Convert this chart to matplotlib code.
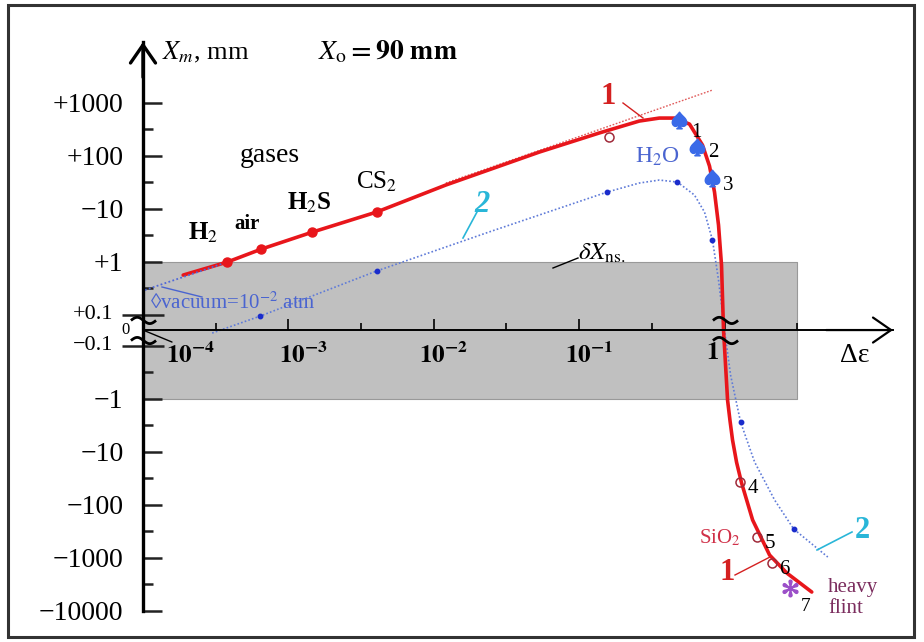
import numpy as np
import matplotlib.pyplot as plt
from matplotlib.path import Path
from matplotlib.patches import Rectangle
from matplotlib.lines import Line2D

plt.rcParams['font.family'] = ['Liberation Serif', 'DejaVu Serif']
plt.rcParams['mathtext.fontset'] = 'stix'

W, H = 924, 642

# curve 1 (red, solid) : delta-epsilon vs X_m [mm]
curve1_de = [1.89e-4, 3.8e-4, 6.52e-4, 1.465e-3, 4.04e-3, 0.0121, 0.053, 0.137, 0.259,
             0.356, 0.452, 0.574, 0.705, 0.788, 0.853, 0.909, 0.953, 0.984, 1.049,
             1.09, 1.135, 1.21, 1.31, 1.56, 2.04, 2.68, 3.98]
curve1_xm = [0.556, 0.979, 1.72, 3.60, 8.59, 27.8, 116, 266, 448,
             510, 510, 393, 158, 63.4, 20.5, 4.88, 0.859, 0.0, -1.07,
             -2.6, -6.07, -16, -39.3, -196, -897, -1960, -4477]

# asymptote of curve 1 (thin dotted)
tan_de = [0.0121, 0.826]
tan_xm = [30.3, 1722]

# gases on curve 1
gas_names = ['H$_2$', 'air', 'H$_2$S', 'CS$_2$']
gas_de = [3.8e-4, 6.52e-4, 1.465e-3, 4.04e-3]
gas_xm = [0.979, 1.72, 3.60, 8.59]

# curve 2 (blue, dotted)
curve2_de = [2.99e-4, 6.41e-4, 4.04e-3, 0.0239, 0.156, 0.259, 0.356, 0.474, 0.621, 0.728,
             0.826, 0.909, 1.0, 1.10, 1.289, 1.61, 2.21, 2.99, 5.13]
curve2_xm = [-0.0194, 0.0903, 0.662, 3.60, 20.5, 30.3, 34.5, 31.6, 18.0, 8.59,
             2.54, 0.448, 0.0, -0.360, -2.78, -15.8, -82.2, -290, -979]
dots2_de = [6.41e-4, 4.04e-3, 0.156, 0.474, 0.826, 1.289, 2.99]
dots2_xm = [0.0903, 0.662, 20.5, 31.6, 2.54, -2.78, -290]

# vacuum extension
vac_de = [1.03e-4, 3.8e-4]
vac_xm = [0.29, 0.979]

# liquids (spades), solids (circles), heavy flint
liq_de = [0.489, 0.651, 0.826]
liq_xm = [468, 144.5, 37.6]
liq_lab = ['1', '2', '3']
sol_de = [0.161, 1.269, 1.662, 2.110]
sol_xm = [223, -37.6, -410, -1270]
sol_lab = ['', '4', '5', '6']
flint_de = [2.807]
flint_xm = [-3760]

# non-sensitivity band
band_de = [1e-4, 3.14]
band_xm = [-1, 1]

ytick_vals = [1000, 100, 10, 1, -1, -10, -100, -1000, -10000]
ytick_labs = ['+1000', '+100', '\u221210', '+1', '\u22121', '\u221210', '\u2212100', '\u22121000', '\u221210000']
yminor = [10**2.5, 10**1.5, 10**0.5, 10**-0.5, -10**-0.5, -10**0.5, -10**1.5, -10**2.5, -10**3.5]
xtick_vals = [1e-3, 1e-2, 1e-1, 1]
xtick_labs = [r'$\mathbf{10^{-3}}$', r'$\mathbf{10^{-2}}$', r'$\mathbf{10^{-1}}$', r'$\mathbf{1}$']
xtick_dx = [15, 10, 10, -12]
xminor = [10**-3.5, 10**-2.5, 10**-1.5, 10**-0.5, 10**0.5]


def f(x, y):
    return x / W, 1 - y / H


def lead(x0, y0, x1, y1, color, lw=1.0):
    fig.add_artist(Line2D([x0 / W, x1 / W], [1 - y0 / H, 1 - y1 / H],
                          transform=fig.transFigure, color=color, lw=lw))


fig = plt.figure(figsize=(W / 100, H / 100), dpi=100)
ax = fig.add_axes([143 / W, 1 - 620 / H, (893 - 143) / W, (620 - 42) / H])
ax.set_xscale('log')
ax.set_yscale('symlog', linthresh=0.1, linscale=0.2632)
ytop = 13900
ax.set_xlim(1e-4, 14.41)
ax.set_ylim(-15100, ytop)

for s in ['top', 'right']:
    ax.spines[s].set_visible(False)
ax.spines['bottom'].set_position(('data', 0))
ax.spines['bottom'].set_linewidth(1.4)
ax.spines['left'].set_linewidth(2.4)
ax.spines['left'].set_bounds(-10000, ytop)

ax.set_yticks(ytick_vals, ytick_labs)
ax.set_yticks(yminor, minor=True)
ax.tick_params(axis='y', which='major', direction='in', length=13.5, width=1.8,
               color='#222222', pad=14, labelsize=20)
ax.tick_params(axis='y', which='minor', direction='in', length=7, width=1.8, color='#222222')
ax.set_xticks(xtick_vals, [''] * 4)
ax.set_xticks(xminor, minor=True)
ax.xaxis.set_minor_formatter(plt.NullFormatter())
ax.tick_params(axis='x', which='major', direction='in', length=8, width=1.2)
ax.tick_params(axis='x', which='minor', direction='in', length=5, width=1.2)

# ±0.1 ticks crossing the axis
ax.plot([1e-4, 1e-4], [0.1, -0.1], ls='none', marker='_', ms=30, mew=1.8,
        color='#222222', clip_on=False)
ax.annotate('+0.1', (1e-4, 0.1), xytext=(-30, 0), textcoords='offset pixels',
            ha='right', va='center', fontsize=16)
ax.annotate('\u22120.1', (1e-4, -0.1), xytext=(-30, 0), textcoords='offset pixels',
            ha='right', va='center', fontsize=16)
ax.annotate('0', (1e-4, 0), xytext=(-17, 0), textcoords='offset pixels',
            ha='center', va='center', fontsize=12)

for v, lab, dx in zip(xtick_vals, xtick_labs, xtick_dx):
    ax.annotate(lab, (v, 0), xytext=(dx, -12), textcoords='offset pixels',
                ha='center', va='top', fontsize=18)
ax.annotate(r'$\mathbf{10^{-4}}$', (1e-4, 0), xytext=(47, -12), textcoords='offset pixels',
            ha='center', va='top', fontsize=18)
ax.annotate('', (1e-4, 0), xytext=(29, -12), textcoords='offset pixels',
            arrowprops=dict(arrowstyle='-', lw=1.0, color='k', shrinkA=0, shrinkB=0))

# axis arrows
ax.annotate('', xy=(1e-4, ytop), xytext=(1e-4, 3000),
            arrowprops=dict(arrowstyle='->,head_length=1.3,head_width=0.9', lw=2.4,
                            color='k', shrinkA=0, shrinkB=0), annotation_clip=False)
ax.annotate('', xy=(14.41, 0), xytext=(5, 0),
            arrowprops=dict(arrowstyle='->,head_length=1.3,head_width=0.9', lw=1.6,
                            color='k', shrinkA=0, shrinkB=0), annotation_clip=False)

# band
ax.fill_between(band_de, band_xm[0], band_xm[1], color='#c0c0c0', ec='#999999',
                lw=0.8, zorder=0)

# curves
ax.plot(tan_de, tan_xm, color='#e05a5a', lw=1.0, ls=(0, (1.2, 1.2)))
ax.plot(curve2_de, curve2_xm, color='#5f7bd8', lw=1.2, ls=(0, (1, 1.3)))
ax.plot(dots2_de, dots2_xm, 'o', ms=3.2, color='#1a2ccc')
ax.plot(curve1_de, curve1_xm, color='#e8161b', lw=2.6, solid_capstyle='round')
ax.plot(vac_de, vac_xm, color='#5068d8', lw=1.3, ls=(0, (1, 1.3)))
ax.plot(gas_de, gas_xm, 'o', ms=6.5, color='#e8161b')
gas_off = [(-24, 17), (-14, 15), (-3, 17), (0, 18)]
gas_bold = ['bold', 'bold', 'bold', 'normal']
for n, x, y, o, b in zip(gas_names, gas_de, gas_xm, gas_off, gas_bold):
    ax.annotate(n, (x, y), xytext=o, textcoords='offset pixels', ha='center',
                va='bottom', fontsize=18 if n != 'air' else 15, fontweight=b)

ax.plot(liq_de, liq_xm, ls='none', marker=r'$\spadesuit$', ms=12, color='#3a6ae8')
for x, y, lab, o in zip(liq_de, liq_xm, liq_lab, [(17, -12), (16, -5), (16, -7)]):
    ax.annotate(lab, (x, y), xytext=o, textcoords='offset pixels', ha='center',
                va='center', fontsize=15)
ax.plot(sol_de, sol_xm, 'o', mfc='none', mec='#a02a3a', ms=6.5, mew=1.1)
for x, y, lab in zip(sol_de, sol_xm, sol_lab):
    ax.annotate(lab, (x, y), xytext=(13, -6), textcoords='offset pixels', ha='center',
                va='center', fontsize=15)
ax.plot(flint_de, flint_xm, ls='none', marker='$*$', ms=12, color='#9b4fc8')
ax.annotate('7', (flint_de[0], flint_xm[0]), xytext=(16, -18), textcoords='offset pixels',
            ha='center', va='center', fontsize=14)

# axis break squiggles
t = np.linspace(-1, 1, 25)
wave = -0.25 * np.sin(np.pi * t)
verts = np.concatenate([np.column_stack([t, 0.8 + wave]), np.column_stack([t, -0.8 + wave])])
codes = ([Path.MOVETO] + [Path.LINETO] * 24) * 2
squig = Path(verts, codes)
ax.plot([1e-4, 1], [0, 0], ls='none', marker=squig, ms=19, mfc='none', mec='k',
        mew=2.0, clip_on=False)

# texts
fig.text(*f(162, 52), r'$X_m$, mm', fontsize=19, va='center')
fig.text(*f(318, 52), r'$X_{\rm o}\mathbf{=90\ mm}$', fontsize=20, va='center')
fig.text(*f(270, 155), 'gases', fontsize=20, ha='center', va='center')
fig.text(*f(657, 157), 'H$_2$O', fontsize=17, ha='center', va='center', color='#4a64d0')
fig.text(*f(608, 97), '1', fontsize=22, fontweight='bold', ha='center', va='center',
         color='#d42020')
lead(623, 103, 643, 118, '#d42020')
fig.text(*f(482, 205), '2', fontsize=22, fontweight='bold', ha='center', va='center',
         color='#29b6d8', style='italic')
lead(463, 238, 477, 212, '#29b6d8', 1.2)
fig.text(*f(578, 253), r'$\delta X_{\rm ns.}$', fontsize=18, va='center')
lead(553, 268, 578, 258, 'k')
fig.text(*f(150, 303), '\u25cavacuum=10$^{-2}$ atm', fontsize=15, va='center',
         color='#4a64d0')
lead(162, 287, 202, 297, '#4a64d0')
fig.text(*f(855, 355), '\u0394\u03b5', fontsize=20, ha='center', va='center')
fig.text(*f(720, 538), 'SiO$_2$', fontsize=15, ha='center', va='center', color='#d03048')
fig.text(*f(828, 598), 'heavy\nflint', fontsize=15, va='center', color='#7b2d5e',
         linespacing=1.2)
fig.text(*f(727, 573), '1', fontsize=22, fontweight='bold', ha='center', va='center',
         color='#d42020')
lead(735, 575, 770, 557, '#d42020')
fig.text(*f(862, 530), '2', fontsize=22, fontweight='bold', ha='center', va='center',
         color='#29b6d8')
lead(817, 550, 852, 532, '#29b6d8', 1.2)

fig.add_artist(Rectangle((8 / W, 1 - 637 / H), (914 - 8) / W, (637 - 5) / H,
                         transform=fig.transFigure, fill=False, lw=2.2, ec='#333333'))

fig.savefig('out.png', dpi=100)
